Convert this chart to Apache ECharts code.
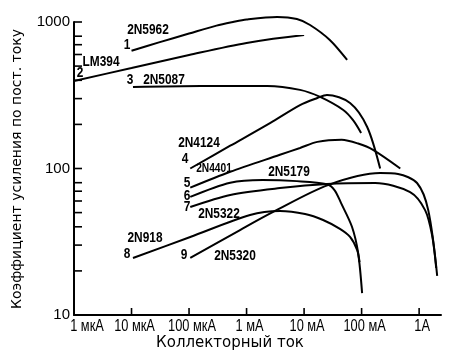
<!DOCTYPE html>
<html><head><meta charset="utf-8">
<script src="https://cdn.jsdelivr.net/npm/echarts@6/dist/echarts.min.js"></script>
<style>html,body{margin:0;padding:0;background:#fff}#c{width:450px;height:355px}</style>
</head><body><div id="c"></div>
<script>
// axis ticks
const xTickValues = [1e-6, 1e-5, 1e-4, 1e-3, 1e-2, 1e-1, 1];
const xTickLabels = ['1 мкА', '10 мкА', '100 мкА', '1 мА', '10 мА', '100 мА', '1А'];
const yMajorValues = [10, 100, 1000];
const yMinorValues = [20, 30, 40, 50, 60, 70, 80, 200, 300, 400, 500, 600, 700, 800];

// curves: [collector current (A), DC gain]
const c1_2N5962 = [[1e-5,636],[3e-5,726],[1e-4,834],[3e-4,945],[5.8e-4,1000],[1e-3,1040],[3.4e-3,1082],[7.5e-3,1048],[1.27e-2,954],[2.8e-2,754],[5.6e-2,551]];
const c2_LM394 = [[1e-6,396],[1e-5,485],[1e-4,595],[1e-3,719],[1e-2,815]];
const c3_2N5087 = [[1.06e-5,360],[1.6e-4,366],[2.3e-3,366],[8.5e-3,344],[1.9e-2,308],[4.8e-2,251],[7.1e-2,214],[9.8e-2,175]];
const c4_2N4124 = [[1.05e-4,100],[5.2e-4,143],[2.6e-3,205],[8.5e-3,271],[1.7e-2,303],[2.5e-2,318],[6.3e-2,280],[1.25e-1,192],[2.1e-1,100]];
const c5_2N4401 = [[1.05e-4,74],[5.2e-4,95],[3.8e-3,124],[8.5e-3,138],[1.7e-2,152],[4.5e-2,157],[8.7e-2,148],[1.58e-1,134],[4.7e-1,100]];
const c6_2N5179 = [[1.05e-4,64],[5.2e-4,80],[1.9e-3,83.5],[7.5e-3,82],[2.5e-2,78],[3.4e-2,71],[4.4e-2,58],[6.8e-2,40],[8.7e-2,26.5],[1.02e-1,14.1]];
const c7_2N5322 = [[1.05e-4,54.6],[5.2e-4,66],[3.8e-3,73.5],[2.5e-2,78.4],[1.72e-1,79.6],[6.97e-1,69],[1.27,52],[1.68,35],[1.98,21]];
const c8_2N918 = [[1.06e-5,24.5],[1.05e-4,34.1],[1.15e-3,48.2],[3.8e-3,51.3],[1.04e-2,48.9],[2.14e-2,44.5],[4.2e-2,38.7],[6.3e-2,34.1],[8.35e-2,27.8],[9.2e-2,23]];
const c9_2N5320 = [[1.05e-4,24.5],[7.7e-4,38],[2.9e-3,50.5],[2.6e-2,77],[2.1e-1,93],[4.3e-1,91.7],[9.2e-1,79.6],[1.44,52],[2.06,18.5]];

const curves = [c1_2N5962, c2_LM394, c3_2N5087, c4_2N4124, c5_2N4401, c6_2N5179, c7_2N5322, c8_2N918, c9_2N5320];

// curve labels: [text, px, py, size]
const curveLabels = [
  ['2N5962', 148, 30, 14], ['1', 127, 45, 14],
  ['LM394', 101, 62, 14], ['2', 80, 73, 14],
  ['3', 130, 80, 14], ['2N5087', 164, 80, 14],
  ['2N4124', 199, 143, 14], ['4', 185, 159, 14],
  ['2N4401', 214, 169, 12], ['5', 187, 183, 14],
  ['6', 187, 196, 14], ['7', 187, 207, 14],
  ['2N5322', 219, 214, 14], ['2N5179', 289, 172, 14],
  ['2N918', 145, 238, 14], ['8', 127, 254, 14],
  ['9', 184, 255, 14], ['2N5320', 235, 256, 14]
];

const X_MIN = 1e-6, X_MAX = 2.4, Y_MIN = 10, Y_MAX = 1000;
const SANS = 'Liberation Sans';

const chart = echarts.init(document.getElementById('c'), null, {renderer: 'canvas'});

const series = curves.map(d => ({
  type: 'line', data: d, showSymbol: false, smooth: 0.3,
  clip: false, silent: true,
  lineStyle: {color: '#000', width: 2}
}));

// y ticks (inside, at 2..8 multiples and decades)
series.push({
  type: 'custom', coordinateSystem: 'cartesian2d', silent: true, clip: false,
  data: yMajorValues.concat(yMinorValues).map(v => [X_MIN, v]),
  renderItem(params, api) {
    const p = api.coord([api.value(0), api.value(1)]);
    return {type: 'line', shape: {x1: p[0], y1: p[1], x2: p[0] + 8, y2: p[1]}, style: {stroke: '#000', lineWidth: 1.6}};
  }
});
// x ticks (inside) and condensed tick labels
series.push({
  type: 'custom', coordinateSystem: 'cartesian2d', silent: true, clip: false,
  data: xTickValues.map((v, i) => [v, Y_MIN, i]),
  renderItem(params, api) {
    const p = api.coord([api.value(0), api.value(1)]);
    const i = api.value(2);
    return {type: 'group', children: [
      {type: 'line', shape: {x1: p[0], y1: p[1], x2: p[0], y2: p[1] - 7}, style: {stroke: '#000', lineWidth: 1.6}},
      {type: 'text', x: p[0] + (i === 0 ? 13 : 3), y: p[1] + 12, scaleX: 0.8,
       style: {text: xTickLabels[i], font: '16px Liberation Sans', fill: '#000', align: 'center', verticalAlign: 'middle'}}
    ]};
  }
});

const graphics = curveLabels.map(l => ({
  type: 'text', x: l[1], y: l[2], silent: true, scaleX: 0.85,
  style: {text: l[0], font: 'bold ' + l[3] + 'px Liberation Sans', fill: '#000', align: 'center', verticalAlign: 'middle'}
}));
graphics.push({
  type: 'text', x: 17, y: 169, rotation: Math.PI / 2, silent: true,
  style: {text: 'Коэффициент усиления по пост. току', font: '14px DejaVu Sans', fill: '#000', align: 'center', verticalAlign: 'middle'}
});
graphics.push({
  type: 'text', x: 230, y: 343, silent: true,
  style: {text: 'Коллекторный ток', font: '15px DejaVu Sans', fill: '#000', align: 'center', verticalAlign: 'middle'}
});

chart.setOption({
  animation: false,
  backgroundColor: '#fff',
  grid: {left: 74, right: 9, top: 22, bottom: 40, containLabel: false},
  xAxis: {
    type: 'log', logBase: 10, min: X_MIN, max: X_MAX,
    axisLine: {lineStyle: {color: '#000', width: 2}},
    axisTick: {show: false},
    splitLine: {show: false},
    axisLabel: {show: false}
  },
  yAxis: {
    type: 'log', logBase: 10, min: Y_MIN, max: Y_MAX,
    axisLine: {lineStyle: {color: '#000', width: 2}},
    axisTick: {show: false},
    splitLine: {show: false},
    axisLabel: {color: '#000', fontSize: 15, fontFamily: SANS, margin: 4,
      formatter: v => String(Math.round(v))}
  },
  series: series,
  graphic: graphics
});
</script>
</body></html>
